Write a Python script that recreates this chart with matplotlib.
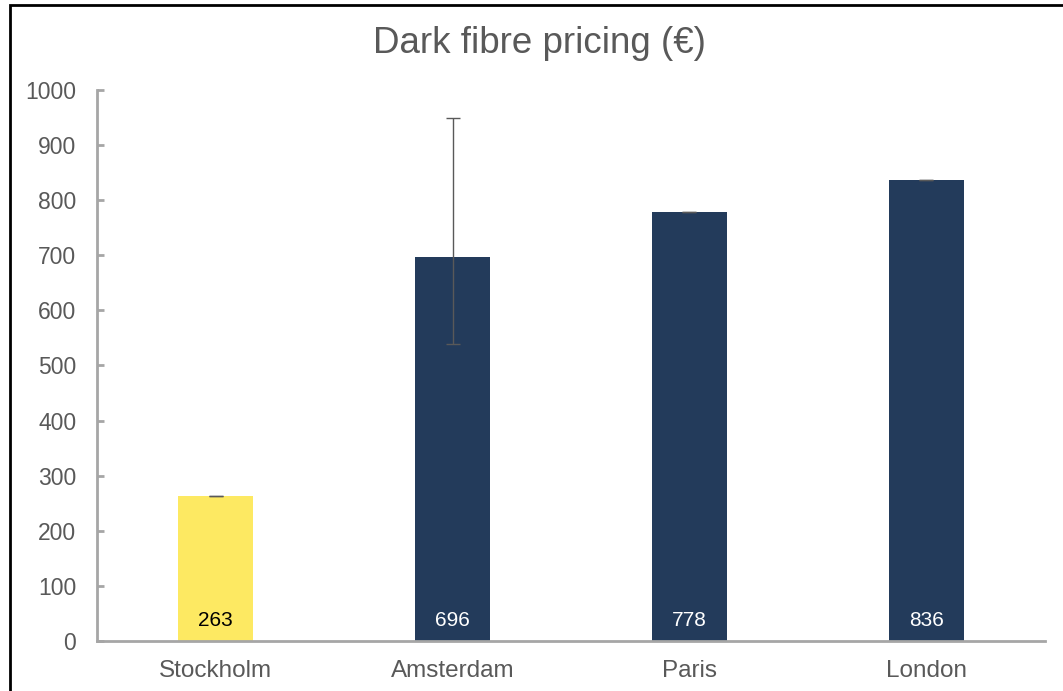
import matplotlib
matplotlib.use('Agg')
import matplotlib.pyplot as plt
from matplotlib.patches import Rectangle

# dane
miasta = ['Stockholm', 'Amsterdam', 'Paris', 'London']
ceny = [263, 696, 778, 836]
blad_dol = [0, 157, 0, 0]
blad_gora = [1, 254, 1, 1]
kolory = ['#FDE962', '#233B5B', '#233B5B', '#233B5B']
kolory_etykiet = ['black', 'white', 'white', 'white']
ticki_y = [0, 100, 200, 300, 400, 500, 600, 700, 800, 900, 1000]

plt.rcParams['font.family'] = ['Liberation Sans', 'DejaVu Sans']

fig = plt.figure(figsize=(10.63, 6.91), dpi=100)
ax = fig.add_axes([0.0913, 0.0724, 0.8917, 0.7974])

x = range(len(miasta))
ax.bar(x, ceny, width=0.316, color=kolory,
       yerr=[blad_dol, blad_gora], ecolor='#595959',
       error_kw=dict(elinewidth=1, capsize=5, capthick=1))

for xi, c, kol in zip(x, ceny, kolory_etykiet):
    ax.text(xi, 37, str(c), ha='center', va='center', fontsize=15, color=kol)

ax.set_xlim(-0.5, len(miasta) - 0.5)
ax.set_ylim(0, 1000)
ax.set_yticks(ticki_y)
ax.set_xticks(list(x))
ax.set_xticklabels(miasta)

for s in ['top', 'right']:
    ax.spines[s].set_visible(False)
for s in ['left', 'bottom']:
    ax.spines[s].set_color('#A6A6A6')
    ax.spines[s].set_linewidth(2)
ax.spines['bottom'].set_zorder(5)

ax.tick_params(axis='y', direction='in', length=5, width=2, color='#A6A6A6',
               labelsize=16.5, labelcolor='#595959', pad=15)
ax.tick_params(axis='x', length=0, labelsize=17.5, labelcolor='#595959', pad=14)

fig.text(0.507, 0.937, 'Dark fibre pricing (€)', ha='center', va='center',
         fontsize=26.5, color='#595959')

# ramka wokół wykresu
fig.patches.append(Rectangle((10 / 1063, -0.05), 1.1, (691 - 5) / 691 + 0.05,
                             transform=fig.transFigure, fill=False,
                             edgecolor='black', linewidth=2))

fig.savefig('out.png', dpi=100)
